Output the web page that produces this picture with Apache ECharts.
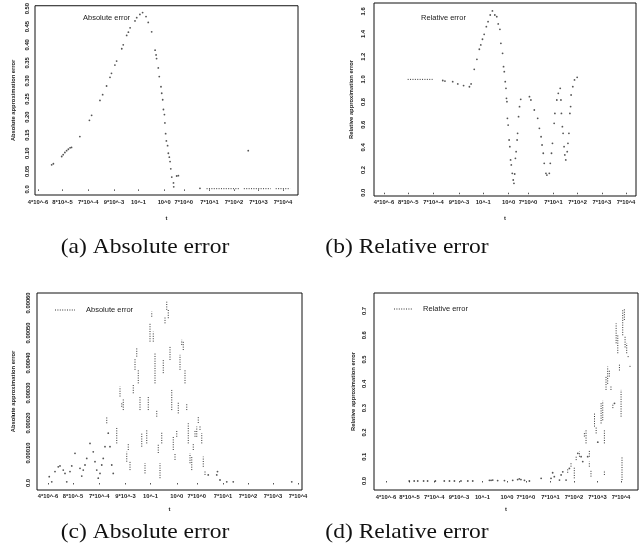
<!DOCTYPE html>
<html><head><meta charset="utf-8">
<script src="https://cdn.jsdelivr.net/npm/echarts@6/dist/echarts.min.js"></script>
<style>html,body{margin:0;padding:0;background:#fff}#c{width:642px;height:550px}</style>
</head><body><div id="c"></div>
<script>
// ---- tick labels (shared by all four panels) ----
const xTickPos = [0, 1, 2.05, 3.1, 4.1, 5.15, 5.95, 7.0, 8.0, 9.0, 10.0];
const xTickLabels = ['4*10^-6','8*10^-5','7*10^-4','9*10^-3','10^-1','10^0','7*10^0','7*10^1','7*10^2','7*10^3','7*10^4'];

const yTicksA = [0, 0.05, 0.10, 0.15, 0.20, 0.25, 0.30, 0.35, 0.40, 0.45, 0.50];
const yLabelsA = ['0.0','0.05','0.10','0.15','0.20','0.25','0.30','0.35','0.40','0.45','0.50'];
const yTicksB = [0, 0.2, 0.4, 0.6, 0.8, 1.0, 1.2, 1.4, 1.6];
const yLabelsB = ['0.0','0.2','0.4','0.6','0.8','1.0','1.2','1.4','1.6'];
const yTicksC = [0, 0.0001, 0.0002, 0.0003, 0.0004, 0.0005, 0.0006];
const yLabelsC = ['0.0','0.00010','0.00020','0.00030','0.00040','0.00050','0.00060'];
const yTicksD = [0, 0.1, 0.2, 0.3, 0.4, 0.5, 0.6, 0.7];
const yLabelsD = ['0.0','0.1','0.2','0.3','0.4','0.5','0.6','0.7'];

// ---- (a) Absolute error : points [x, y] ----
const pointsA = [
 [0.56,0.068],[0.63,0.071],[0.97,0.091],[1.03,0.096],[1.10,0.102],[1.17,0.107],[1.24,0.111],[1.31,0.115],[1.37,0.116],
 [1.71,0.146],[2.10,0.191],[2.19,0.205],[2.53,0.246],[2.64,0.262],[2.80,0.286],[2.94,0.310],[3.00,0.321],
 [3.14,0.344],[3.21,0.355],[3.42,0.389],[3.48,0.400],[3.62,0.426],[3.69,0.435],[3.76,0.447],[3.96,0.466],
 [4.03,0.475],[4.16,0.484],[4.27,0.489],[4.41,0.478],[4.50,0.462],[4.64,0.436],[4.78,0.385],[4.82,0.372],
 [4.84,0.362],[4.91,0.336],[4.95,0.312],[5.02,0.284],[5.05,0.266],[5.09,0.248],[5.12,0.221],[5.16,0.207],
 [5.18,0.184],[5.21,0.154],[5.24,0.134],[5.29,0.121],[5.32,0.100],[5.36,0.089],[5.39,0.077],[5.42,0.057],
 [5.46,0.034],[5.53,0.018],[5.54,0.007],[5.66,0.037],[5.73,0.038],[6.61,0.003],[8.58,0.107]
];
// horizontal dotted runs [x1, y1, x2, y2]
const segmentsA = [[6.88,0.002,8.20,0.002],[8.40,0.002,9.50,0.002],[9.70,0.002,10.29,0.002]];

// ---- (b) Relative error ----
const pointsB = [
 [2.43,0.99],[2.52,0.985],[2.84,0.98],[3.05,0.96],[3.29,0.945],[3.53,0.935],[3.60,0.96],[3.73,1.089],[3.84,1.177],
 [3.94,1.266],[4.00,1.304],[4.07,1.354],[4.14,1.398],[4.23,1.465],[4.30,1.509],[4.39,1.568],[4.48,1.604],[4.58,1.568],
 [4.66,1.553],[4.72,1.489],[4.79,1.442],[4.83,1.318],[4.90,1.23],[4.94,1.112],[4.97,1.068],[5.01,0.98],[5.04,0.921],
 [5.06,0.833],[5.08,0.803],[5.10,0.656],[5.13,0.597],[5.17,0.465],[5.20,0.406],[5.23,0.289],[5.26,0.245],[5.30,0.171],
 [5.34,0.112],[5.37,0.083],[5.40,0.165],[5.43,0.303],[5.46,0.362],[5.50,0.465],[5.52,0.524],[5.56,0.671],[5.60,0.759],
 [5.65,0.824],[6.01,0.847],[6.07,0.818],[6.21,0.73],[6.35,0.656],[6.42,0.568],[6.49,0.494],[6.53,0.421],[6.58,0.348],
 [6.62,0.259],[6.69,0.171],[6.73,0.156],[6.83,0.171],[6.87,0.259],[6.92,0.348],[6.96,0.436],[7.03,0.612],[7.06,0.70],
 [7.14,0.818],[7.20,0.877],[7.28,0.921],[7.31,0.818],[7.33,0.70],[7.37,0.583],[7.40,0.524],[7.44,0.406],[7.47,0.333],
 [7.51,0.289],[7.57,0.362],[7.60,0.436],[7.64,0.524],[7.68,0.70],[7.71,0.76],[7.73,0.862],[7.80,0.936],[7.87,0.995],[7.98,1.018]
];
const segmentsB = [[0.98,1.0,2.01,1.0]];

// ---- (c) Absolute error : dots [x, y] and vertical runs [x, yLow, yHigh] ----
const dotsC = [
 [0.05,0.21e-4],[0.15,0.04e-4],[0.28,0.38e-4],[0.41,0.54e-4],[0.48,0.57e-4],[0.61,0.43e-4],[0.68,0.32e-4],[0.75,0.04e-4],
 [0.88,0.38e-4],[0.95,0.57e-4],[1.08,0.99e-4],[1.28,0.49e-4],[1.35,0.23e-4],[1.41,0.43e-4],[1.48,0.60e-4],[1.55,0.82e-4],
 [1.68,1.32e-4],[1.81,1.04e-4],[1.88,0.71e-4],[1.95,0.43e-4],[2.01,0.16e-4],[2.08,0.32e-4],[2.15,0.60e-4],[2.21,0.82e-4],
 [2.28,1.21e-4],[2.41,1.66e-4],[2.48,1.21e-4],[2.55,0.60e-4],[2.61,0.32e-4],[6.41,0.27e-4],[6.75,0.27e-4],[6.78,0.38e-4],
 [6.88,0.10e-4],[7.15,0.04e-4],[7.41,0.04e-4],[9.75,0.04e-4]
];
const runsC = [
 [2.35,1.99e-4,2.21e-4],[2.75,1.32e-4,1.88e-4],[2.88,2.88e-4,3.21e-4],[2.95,2.54e-4,2.66e-4],[3.01,2.43e-4,2.82e-4],
 [3.15,0.71e-4,1.04e-4],[3.21,1.10e-4,1.32e-4],[3.28,0.43e-4,0.71e-4],[3.41,2.99e-4,3.27e-4],[3.48,3.77e-4,4.16e-4],
 [3.55,4.21e-4,4.49e-4],[3.61,3.32e-4,3.77e-4],[3.68,2.43e-4,2.88e-4],[3.75,1.21e-4,1.66e-4],[3.88,0.32e-4,0.66e-4],
 [3.95,1.32e-4,1.77e-4],[4.01,2.43e-4,2.88e-4],[4.08,4.71e-4,5.32e-4],[4.15,5.54e-4,5.71e-4],[4.21,4.71e-4,5.04e-4],
 [4.28,3.32e-4,4.32e-4],[4.35,2.21e-4,2.43e-4],[4.41,1.00e-4,1.32e-4],[4.48,0.16e-4,0.66e-4],[4.55,1.32e-4,1.71e-4],
 [4.61,3.66e-4,4.10e-4],[4.68,5.32e-4,5.54e-4],[4.75,5.77e-4,6.04e-4],[4.81,5.49e-4,5.77e-4],[4.88,4.10e-4,4.54e-4],
 [4.95,2.43e-4,3.10e-4],[5.01,1.10e-4,1.54e-4],[5.08,0.77e-4,0.99e-4],[5.15,1.54e-4,1.77e-4],[5.21,2.32e-4,2.71e-4],
 [5.28,3.77e-4,4.27e-4],[5.35,4.60e-4,4.77e-4],[5.41,4.43e-4,4.71e-4],[5.48,3.32e-4,3.77e-4],[5.55,2.43e-4,2.66e-4],
 [5.61,1.32e-4,1.99e-4],[5.68,0.66e-4,0.99e-4],[5.75,0.43e-4,0.88e-4],[5.81,1.10e-4,1.32e-4],[5.88,1.54e-4,1.77e-4],
 [5.95,1.54e-4,1.88e-4],[6.01,2.00e-4,2.21e-4],[6.08,1.77e-4,1.93e-4],[6.15,1.32e-4,1.66e-4],[6.21,0.54e-4,0.88e-4],
 [6.28,0.27e-4,0.43e-4]
];

// ---- (d) Relative error ----
const dotsD = [
 [0.99,0],[1.20,0],[1.35,0],[1.60,0],[1.77,0],[2.10,0],[2.48,0],[2.70,0],[2.91,0],[3.19,0],[3.48,0],[3.69,0],
 [4.40,0.003],[4.47,0.003],[4.54,0.004],[4.75,0.002],[5.04,0.002],[5.39,0.003],[5.60,0.006],[5.67,0.009],[5.74,0.006],
 [5.89,0.003],[6.10,0.0],[6.60,0.011],[7.02,0.011],[7.09,0.034],[7.16,0.018],[7.38,0.004],[7.45,0.025],[7.52,0.038],
 [7.66,0.004],[7.80,0.052],[8.16,0.114],[8.30,0.10],[8.37,0.08],[8.58,0.10],[9.01,0.16],[9.72,0.32]
];
const runsD = [
 [7.73,0.034,0.052],[7.87,0.059,0.073],[8.01,0.011,0.059],[8.09,0.086,0.10],[8.23,0.10,0.121],[8.44,0.183,0.203],
 [8.51,0.155,0.21],[8.65,0.059,0.08],[8.65,0.10,0.128],[8.72,0.018,0.045],[8.87,0.224,0.279],[8.94,0.196,0.224],
 [9.15,0.237,0.32],[9.22,0.25,0.33],[9.29,0.025,0.045],[9.29,0.155,0.21],[9.36,0.375,0.43],[9.43,0.40,0.471],
 [9.50,0.43,0.455],[9.57,0.375,0.39],[9.65,0.30,0.32],[9.79,0.567,0.649],[9.86,0.526,0.60],[9.93,0.455,0.48],
 [10.00,0.265,0.375],[10.04,0.004,0.10],[10.07,0.60,0.704],[10.14,0.663,0.711],[10.17,0.55,0.594],[10.24,0.526,0.567],
 [10.30,0.51,0.52],[10.38,0.47,0.48]
];

const titles = ['Absolute error','Relative error','Absolute error','Relative error'];
const yNames = ['Absolute approximation error','Relative approximation error','Absolute approximation error','Relative approximation error'];
const captions = ['(a) Absolute error','(b) Relative error','(c) Absolute error','(d) Relative error'];

const INK = '#222';
const tickFont = {fontSize:5.8, fontWeight:'bold', fontFamily:'Liberation Sans', color:INK};

function pick(list, labels, v){
  let best = 0, d = Infinity;
  list.forEach((p,i)=>{ const dd = Math.abs(p - v); if (dd < d){ d = dd; best = i; } });
  return labels[best];
}
function xAx(g, min, max, margin, nameGap){
  return {type:'value', gridIndex:g, min, max,
    axisLine:{show:false}, splitLine:{show:false},
    axisTick:{show:true, customValues:xTickPos, length:1.5, lineStyle:{color:'#555'}},
    axisLabel:Object.assign({customValues:xTickPos, margin, formatter:v=>pick(xTickPos,xTickLabels,v)}, tickFont),
    name:'t', nameLocation:'middle', nameGap, nameTextStyle:Object.assign({}, tickFont)};
}
function yAx(g, min, max, ticks, labels, margin, name, nameGap){
  return {type:'value', gridIndex:g, min, max,
    axisLine:{show:false}, splitLine:{show:false},
    axisTick:{show:false},
    axisLabel:Object.assign({customValues:ticks, rotate:90, margin, formatter:v=>pick(ticks,labels,v)}, tickFont),
    name, nameLocation:'middle', nameGap, nameRotate:90, nameTextStyle:Object.assign({}, tickFont)};
}
function segRender(params, api){
  const p1 = api.coord([api.value(0), api.value(1)]);
  const p2 = api.coord([api.value(2), api.value(3)]);
  return {type:'line', shape:{x1:p1[0],y1:p1[1],x2:p2[0],y2:p2[1]},
          style:{stroke:'#333', lineWidth:1, lineDash:[1,1.4]}};
}
function segSeries(idx, data){
  return {type:'custom', xAxisIndex:idx, yAxisIndex:idx, renderItem:segRender, data,
          encode:{x:[0,2], y:[1,3]}, silent:true, clip:true};
}
function dotSeries(idx, data){
  return {type:'scatter', xAxisIndex:idx, yAxisIndex:idx, data, symbol:'circle', symbolSize:1.8,
          itemStyle:{color:'#2a2a2a'}, silent:true};
}
const toSeg = r => [r[0], r[1], r[0], r[2]];

const gridStyle = {show:true, borderColor:'#111', borderWidth:1, backgroundColor:'rgba(0,0,0,0)'};
const capFont = '21px "Liberation Serif"';
const capStyle = t => ({text:t, font:capFont, fill:'#111', align:'center', verticalAlign:'middle'});
const option = {
  animation:false,
  backgroundColor:'#fff',
  grid:[
    Object.assign({left:35, top:3, width:263, height:192}, gridStyle),
    Object.assign({left:374, top:3, width:262, height:193}, gridStyle),
    Object.assign({left:37, top:293, width:265, height:197}, gridStyle),
    Object.assign({left:374, top:293, width:264, height:197}, gridStyle)
  ],
  xAxis:[
    xAx(0, -0.12, 10.61, 4, 20),
    xAx(1, -0.41, 10.41, 3, 19),
    xAx(2, -0.44, 10.16, 3, 16),
    xAx(3, -0.51, 10.72, 4, 16)
  ],
  yAxis:[
    yAx(0, -0.0155, 0.508, yTicksA, yLabelsA, 5, yNames[0], 19),
    yAx(1, -0.029, 1.674, yTicksB, yLabelsB, 8, yNames[1], 20),
    yAx(2, -0.0000233, 0.000633, yTicksC, yLabelsC, 6, yNames[2], 21),
    yAx(3, -0.037, 0.774, yTicksD, yLabelsD, 7, yNames[3], 18)
  ],
  series:[
    dotSeries(0, pointsA), segSeries(0, segmentsA),
    dotSeries(1, pointsB), segSeries(1, segmentsB),
    dotSeries(2, dotsC), segSeries(2, runsC.map(toSeg)),
    dotSeries(3, dotsD), segSeries(3, runsD.map(toSeg))
  ],
  graphic:[
    {type:'text', x:83, y:18, style:{text:titles[0], font:'7.5px "Liberation Sans"', fill:INK, verticalAlign:'middle'}},
    {type:'text', x:421, y:18, style:{text:titles[1], font:'7.5px "Liberation Sans"', fill:INK, verticalAlign:'middle'}},
    {type:'line', shape:{x1:55,y1:310,x2:75,y2:310}, style:{stroke:'#333', lineWidth:1, lineDash:[1,1.4]}},
    {type:'text', x:86, y:310, style:{text:titles[2], font:'7.5px "Liberation Sans"', fill:INK, verticalAlign:'middle'}},
    {type:'line', shape:{x1:394,y1:309,x2:413,y2:309}, style:{stroke:'#333', lineWidth:1, lineDash:[1,1.4]}},
    {type:'text', x:423, y:309, style:{text:titles[3], font:'7.5px "Liberation Sans"', fill:INK, verticalAlign:'middle'}},
    {type:'text', x:145, y:247, scaleX:1.12, style:capStyle(captions[0])},
    {type:'text', x:407, y:247, scaleX:1.12, style:capStyle(captions[1])},
    {type:'text', x:145, y:532, scaleX:1.12, style:capStyle(captions[2])},
    {type:'text', x:407, y:532, scaleX:1.12, style:capStyle(captions[3])}
  ]
};
const chart = echarts.init(document.getElementById('c'), null, {renderer:'canvas'});
chart.setOption(option);
</script>
</body></html>
